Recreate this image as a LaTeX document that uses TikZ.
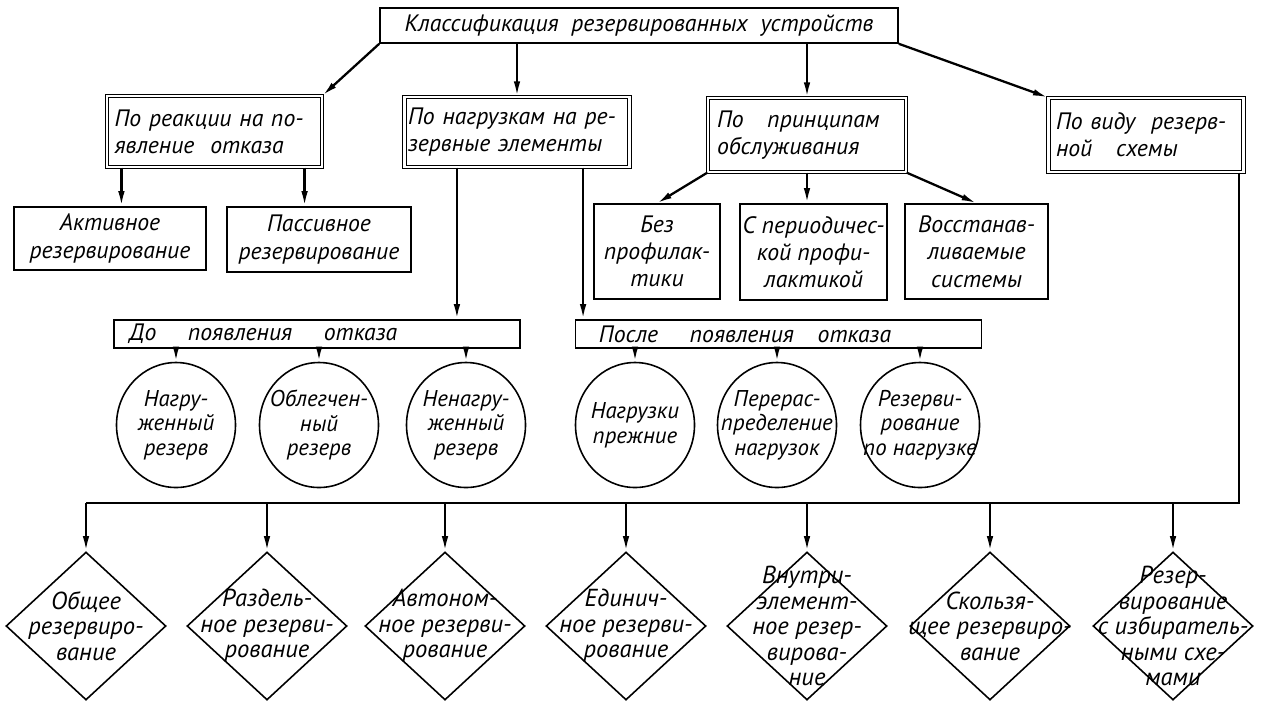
\documentclass[tikz,border=0pt]{standalone}
\usepackage{fontspec}
\setmainfont{PT Sans}
\usetikzlibrary{arrows.meta,shapes.geometric}

\begin{document}
\begin{tikzpicture}[x=0.2mm,y=-0.2mm,
        every node/.style={font=\itshape\fontsize{13.5}{15.5}\selectfont},
        box/.style={draw,line width=0.9pt,inner sep=0pt,align=center},
        head/.style={box,double,double distance=1.4pt,line width=0.65pt,align=left},
        circ/.style={draw,ellipse,line width=0.9pt,inner sep=0pt,minimum width=23.8mm,minimum height=25mm},
        dia/.style={draw,diamond,line width=0.9pt,inner sep=0pt,minimum width=32mm,minimum height=29.6mm},
        txt/.style={align=center,font=\itshape\fontsize{13}{14}\selectfont},
        dtxt/.style={align=center,font=\itshape\fontsize{14}{14.5}\selectfont},
        arr/.style={line width=1.3pt,-{Latex[length=3mm,width=1.3mm]}},
        wire/.style={line width=1.3pt}]
        \useasboundingbox (0,0) rectangle (1265,706);

        \node[box,minimum width=103.6mm,minimum height=7mm] (top) at (639,25.5) {Классификация\ \ резервированных\ \ устройств};

        \node[head,minimum width=43mm,minimum height=14.2mm,text width=40mm] (react) at (214.5,131.5) {По реакции на по-\\явление\ \ отказа};
        \node[head,minimum width=45mm,minimum height=14mm,text width=43.6mm] (load) at (517,132) {По нагрузкам на ре-\\зервные элементы};
        \node[head,minimum width=39.6mm,minimum height=14.8mm,text width=36mm] (serv) at (807,135) {По\quad принципам\\обслуживания};
        \node[head,minimum width=39mm,minimum height=14.8mm,text width=36mm] (scheme) at (1146,135) {По виду\ \ резерв-\\ной\quad схемы};

        \node[box,minimum width=38.4mm,minimum height=12.6mm] (act) at (110,238.5) {Активное\\резервирование};
        \node[box,minimum width=36.8mm,minimum height=13mm] (pas) at (319,239.5) {Пассивное\\резервирование};
        \node[box,minimum width=25.2mm,minimum height=19mm] (noprof) at (657,251.5) {Без\\профилак-\\тики};
        \node[box,minimum width=29.4mm,minimum height=19.2mm] (perprof) at (813.5,252) {С периодичес-\\кой профи-\\лактикой};
        \node[box,minimum width=28.6mm,minimum height=19mm] (restor) at (976.5,251.5) {Восстанав-\\ливаемые\\системы};

        \node[box,minimum width=81.2mm,minimum height=5.6mm,text width=75mm,align=left] (before) at (317,334) {До\quad\ появления\quad\ отказа};
        \node[box,minimum width=81.2mm,minimum height=5.6mm,text width=75mm,align=left] (after) at (778.5,334) {\ После\quad\ появления\quad отказа};

        \node[circ] (c1) at (176,425) {};
        \node[circ] (c2) at (319,425) {};
        \node[circ] (c3) at (466,425) {};
        \node[circ] (c4) at (635,425) {};
        \node[circ] (c5) at (777,425) {};
        \node[circ] (c6) at (920,425) {};
        \node[txt] (c1t) at (c1) {Нагру-\\женный\\резерв};
        \node[txt] (c2t) at (c2) {Облегчен-\\ный\\резерв};
        \node[txt] (c3t) at (c3) {Ненагру-\\женный\\резерв};
        \node[txt] (c4t) at (c4) {Нагрузки\\прежние};
        \node[txt] (c5t) at (c5) {Перерас-\\пределение\\нагрузок};
        \node[txt] (c6t) at (c6) {Резерви-\\рование\\по нагрузке};

        \node[dia] (d1) at (86,626) {};
        \node[dia] (d2) at (267,626) {};
        \node[dia] (d3) at (445,626) {};
        \node[dia] (d4) at (626,626) {};
        \node[dia] (d5) at (807,626) {};
        \node[dia] (d6) at (990,626) {};
        \node[dia] (d7) at (1173,626) {};
        \node[dtxt] (d1t) at (d1) {Общее\\резервиро-\\вание};
        \node[dtxt] (d2t) at (d2) {Раздель-\\ное резерви-\\рование};
        \node[dtxt] (d3t) at (d3) {Автоном-\\ное резерви-\\рование};
        \node[dtxt] (d4t) at (d4) {Единич-\\ное резерви-\\рование};
        \node[dtxt] (d5t) at (d5) {Внутри-\\элемент-\\ное резер-\\вирова-\\ние};
        \node[dtxt] (d6t) at (d6) {Скользя-\\щее резервиро-\\вание};
        \node[dtxt] (d7t) at (d7) {Резер-\\вирование\\с избиратель-\\ными схе-\\мами};

        \draw[arr] (top.south west) -- (react.north east);
        \draw[arr] (top.south -| load.north) -- (load.north);
        \draw[arr] (top.south -| serv.north) -- (serv.north);
        \draw[arr] (top.south east) -- (scheme.north west);

        \coordinate (r1) at ([xshift=3mm]react.south west);
        \coordinate (r2) at ([xshift=-3.6mm]react.south east);
        \draw[arr] (r1) -- (r1 |- act.north);
        \draw[arr] (r2) -- (r2 |- pas.north);

        \coordinate (l1) at ([xshift=10.6mm]load.south west);
        \coordinate (l2) at ([xshift=-9.4mm]load.south east);
        \draw[arr] (l1) -- (l1 |- before.north);
        \draw[arr] (l2) -- (l2 |- after.north);

        \draw[arr] (serv.south west) -- (noprof.north);
        \draw[arr] (serv.south) -- (serv.south |- perprof.north);
        \draw[arr] (serv.south east) -- (restor.north);

        \foreach \i in {1,2,3}
            \draw[arr] (before.south -| c\i.north) -- (c\i.north);
        \foreach \i in {4,5,6}
            \draw[arr] (after.south -| c\i.north) -- (c\i.north);

        \coordinate (s1) at ([xshift=-1mm]scheme.south east);
        \coordinate (bus) at (86,503);
        \draw[wire] (s1) |- (bus);
        \foreach \i in {1,...,7}
            \draw[arr] (d\i.north |- bus) -- (d\i.north);
    \end{tikzpicture}
\end{document}
